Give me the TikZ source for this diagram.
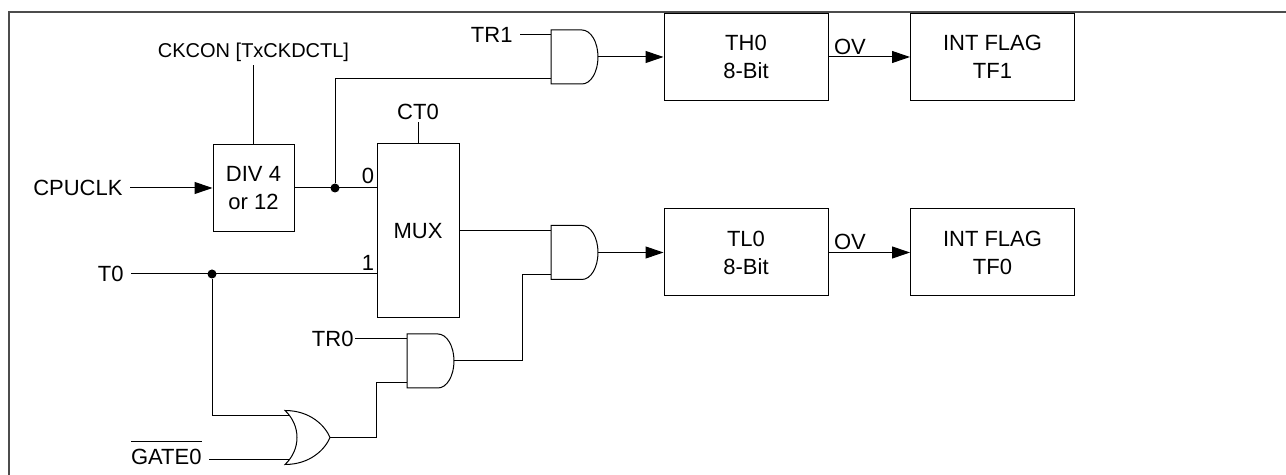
\documentclass[tikz,border=0pt]{standalone}
\usepackage{fontspec}
\setmainfont{Liberation Sans}
\usetikzlibrary{arrows.meta,positioning}
\tikzset{
	>={Triangle[length=9pt,width=6pt]},
	blk/.style={draw,rectangle,align=center,inner sep=0pt,minimum width=82pt,minimum height=43.5pt},
	sig/.style={inner xsep=3.5pt,inner ysep=0pt},
	pin/.style={inner sep=0pt},
	dot/.style={circle,fill,inner sep=0pt,minimum size=4.5pt},
	ovlab/.style={anchor=south west,inner xsep=2.5pt,inner ysep=1pt},
	frame/.style={line width=1pt,black!70},
	andgate/.pic={
		\draw (0,-27) -- (31,-27) .. controls (39.8,-27) and (47,-14.9) .. (47,0)
			.. controls (47,14.9) and (39.8,27) .. (31,27) -- (0,27) -- cycle;
		\coordinate (-in1) at (0,-22);
		\coordinate (-in2) at (0,22);
		\coordinate (-out) at (47,0);
	},
	orgate/.pic={
		\draw (0,-27) .. controls (25,-27) and (40,-12) .. (45,0)
			.. controls (40,12) and (25,27) .. (0,27)
			.. controls (16,12) and (16,-12) .. (0,-27) -- cycle;
		\coordinate (-in1) at (4.5,-22);
		\coordinate (-in2) at (4.5,22);
		\coordinate (-out) at (45,0);
	}
}

\begin{document}
\begin{tikzpicture}[x=0.5pt,y=-0.5pt,line width=0.5pt,font=\fontsize{11}{14}\selectfont]
	\useasboundingbox (0,0) rectangle (1286,475);
	\draw[frame] (9,475) -- (9,12) -- (1286,12);

	% clock path
	\node[inner sep=1.5pt,anchor=base,font=\fontsize{10}{12}\selectfont] (ckcon) at (253.5,57.5) {CKCON [TxCKDCTL]};
	\node[blk,minimum width=40.5pt] (div) at (253.5,188) {DIV 4\\or 12};
	\node[sig,anchor=east] (cpuclk) at (130,188) {CPUCLK};
	\node[blk,minimum width=41pt,minimum height=87pt] (mux) at (418,231) {MUX};
	\node[inner sep=1pt] (ct0) at (418,112) {CT0};
	\node[pin] (p0) at (368,176) {0};
	\node[pin] (p1) at (368,263) {1};
	\node[dot] (j1) at (335,188) {};
	\node[sig,anchor=east] (t0) at (131,274) {T0};
	\node[dot] (j2) at (212,274) {};

	% gates
	\pic (a1) at (551,57) {andgate};
	\pic (a2) at (551,252.5) {andgate};
	\pic (a3) at (407,361) {andgate};
	\pic (o1) at (285,437.5) {orgate};
	\node[sig,anchor=east] (tr1) at (520,35) {TR1};
	\node[sig,inner xsep=0.5pt,anchor=east] (tr0) at (355,339) {TR0};
	\node[sig,anchor=base east] (gate0) at (209,465) {$\overline{\mbox{\rule{0pt}{10.2pt}GATE0}}$};

	% counters and flags
	\node[blk] (th0) at (746,57) {TH0\\8-Bit};
	\node[blk] (tf1) at (992.5,57) {INT FLAG\\TF1};
	\node[blk] (tl0) at (746,252.5) {TL0\\8-Bit};
	\node[blk] (tf0) at (992.5,252.5) {INT FLAG\\TF0};

	\draw (ckcon) -- (div);
	\draw[->] (cpuclk.east) -- (cpuclk.east -| div.west);
	\draw (div.east) -- (div.east -| mux.west);
	\draw (ct0) -- (mux);
	\draw (j1) |- (a1-in2);
	\draw (tr1.east) -- (a1-in1);
	\draw[->] (a1-out) -- (a1-out -| th0.west);
	\draw[->] (th0.east) node[ovlab] {OV} -- (tf1.west);

	\draw (t0.east) -- (t0.east -| mux.west);
	\draw (j2) |- (o1-in1);
	\draw (gate0.east |- o1-in2) -- (o1-in2);
	\draw (o1-out) -- ++(46,0) |- (a3-in2);
	\draw (tr0.east) -- (a3-in1);
	\draw (a3-out) -- ++(68,0) |- (a2-in2);
	\draw (mux.east |- a2-in1) -- (a2-in1);
	\draw[->] (a2-out) -- (a2-out -| tl0.west);
	\draw[->] (tl0.east) node[ovlab] {OV} -- (tf0.west);
\end{tikzpicture}
\end{document}
